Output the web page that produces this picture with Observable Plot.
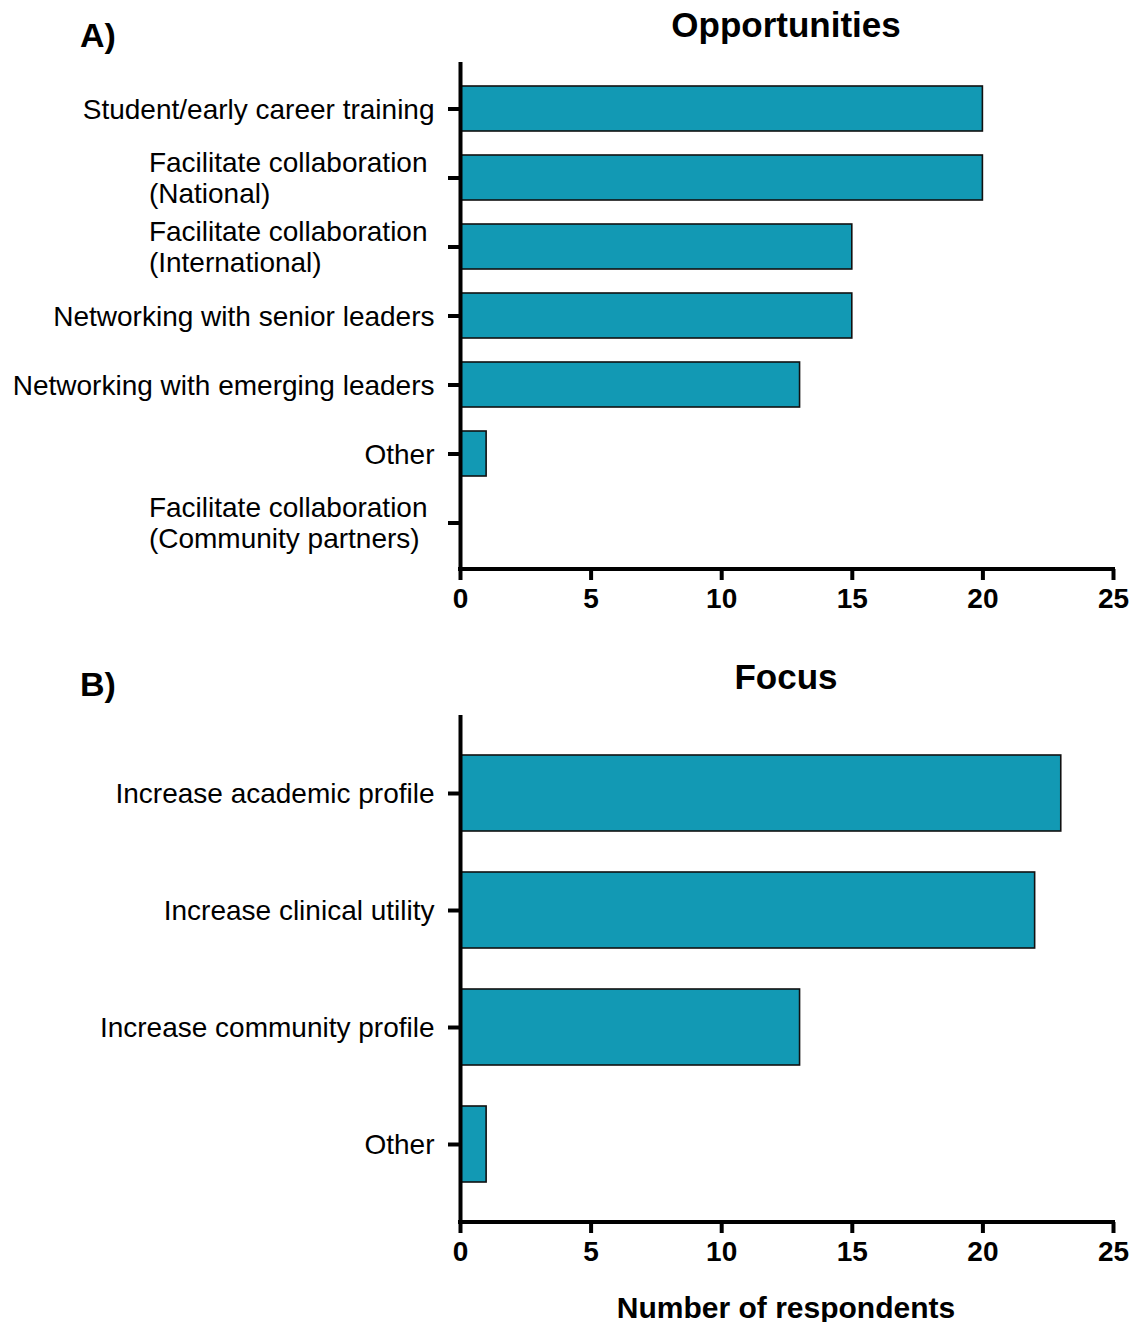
<!DOCTYPE html>
<html>
<head>
<meta charset="utf-8">
<script src="https://cdn.jsdelivr.net/npm/d3@7"></script>
<script src="https://cdn.jsdelivr.net/npm/@observablehq/plot@0.6"></script>
<style>
  body { margin: 0; background: #fff; }
  #wrap { position: relative; width: 1132px; height: 1322px; font-family: "Liberation Sans", Arial, sans-serif; color: #000; }
  #wrap svg { position: absolute; left: 0; }
  .lbl { position: absolute; font-weight: bold; white-space: nowrap; line-height: 1; }
  .ctr { left: 0; width: 1132px; padding-left: 440px; box-sizing: border-box; text-align: center; }
</style>
</head>
<body>
<div id="wrap">
  <div class="lbl" style="left:80px; top:18px; font-size:34px;">A)</div>
  <div class="lbl ctr" style="top:7px; font-size:35px;">Opportunities</div>
  <div class="lbl" style="left:80px; top:667px; font-size:34px;">B)</div>
  <div class="lbl ctr" style="top:659px; font-size:35px;">Focus</div>
  <div class="lbl ctr" style="top:1293px; font-size:30px;">Number of respondents</div>
</div>
<script>
// Panel A: opportunities offered by the network
const opportunityCategories = [
  "Student/early career training",
  "Facilitate collaboration (National)",
  "Facilitate collaboration (International)",
  "Networking with senior leaders",
  "Networking with emerging leaders",
  "Other",
  "Facilitate collaboration (Community partners)"
];
const opportunityCounts = [20, 20, 15, 15, 13, 1, 0];

// Panel B: desired focus
const focusCategories = [
  "Increase academic profile",
  "Increase clinical utility",
  "Increase community profile",
  "Other"
];
const focusCounts = [23, 22, 13, 1];

const xDomain = [0, 25];
const xTicks = [0, 5, 10, 15, 20, 25];

const barFill = "#1299b4";
const font = "'Liberation Sans', Arial, sans-serif";

function panel({categories, counts, height, marginTop, marginBottom, insetTop, insetBottom}) {
  const rows = categories.map((category, i) => ({category, count: counts[i]}));
  return Plot.plot({
    width: 1132,
    height,
    marginLeft: 460,
    marginRight: 19,
    marginTop,
    marginBottom,
    style: {fontFamily: font, fontSize: "28px", color: "#000", background: "transparent", overflow: "visible"},
    x: {domain: xDomain},
    y: {type: "band", domain: categories, paddingInner: 0.35, paddingOuter: 0, insetTop, insetBottom},
    marks: [
      Plot.barX(rows, {x: "count", y: "category", fill: barFill, stroke: "#111", strokeWidth: 1.6}),
      Plot.axisY({
        tickSize: 12, tickPadding: 14, strokeWidth: 4, fontSize: 28, lineHeight: 1.1,
        tickFormat: (d) => d.replace(" (", "\n("), label: null
      }),
      Plot.axisX({
        ticks: xTicks, tickSize: 11, tickPadding: 8, strokeWidth: 4,
        fontSize: 28, fontWeight: "bold", label: null
      }),
      Plot.ruleX([0], {strokeWidth: 4}),
      // horizontal axis line along the bottom of the frame
      (index, scales, values, dims) => {
        const g = d3.create("svg:g");
        const yb = dims.height - dims.marginBottom;
        g.append("line")
          .attr("x1", scales.x(xDomain[0]) - 2)
          .attr("x2", scales.x(xDomain[1]) + 2)
          .attr("y1", yb).attr("y2", yb)
          .attr("stroke", "#000").attr("stroke-width", 4);
        return g.node();
      }
    ]
  });
}

const wrap = document.getElementById("wrap");

const svgA = panel({
  categories: opportunityCategories, counts: opportunityCounts,
  height: 640, marginTop: 62, marginBottom: 71, insetTop: 23, insetBottom: 24
});
svgA.style.top = "0px";
wrap.appendChild(svgA);

const svgB = panel({
  categories: focusCategories, counts: focusCounts,
  height: 672, marginTop: 65, marginBottom: 100, insetTop: 40, insetBottom: 39
});
svgB.style.top = "650px";
wrap.appendChild(svgB);

// Wrapped category labels: left-aligned block, set back by one space width
wrap.querySelectorAll('g[aria-label="y-axis tick label"] text').forEach((t) => {
  const spans = t.querySelectorAll("tspan");
  if (spans.length < 2) return;
  const bb = t.getBBox();
  t.setAttribute("text-anchor", "start");
  spans.forEach((s) => s.setAttribute("x", bb.x - 7));
});
</script>
</body>
</html>
